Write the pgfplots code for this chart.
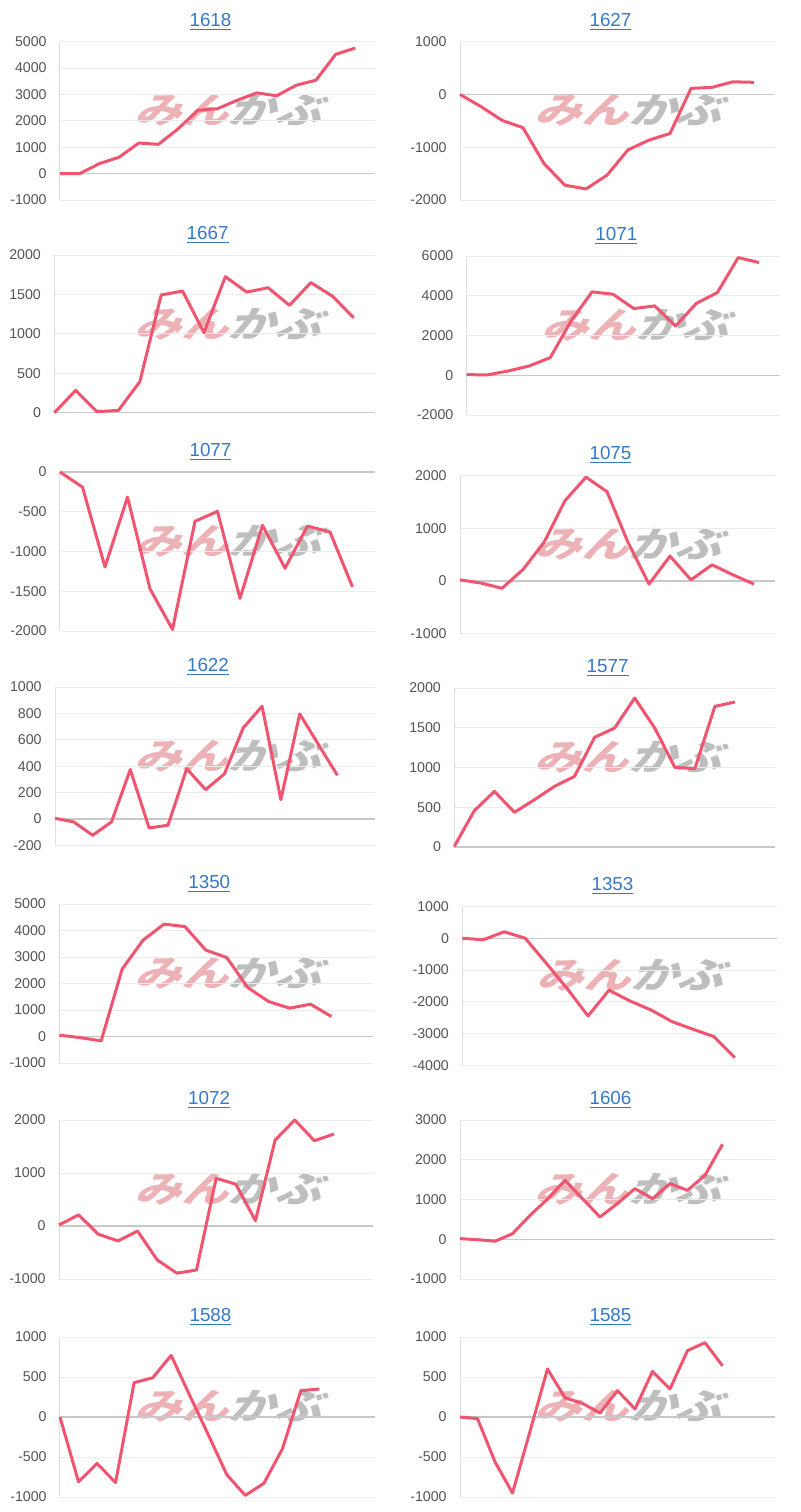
\documentclass[border=0pt]{standalone}
\usepackage{fontspec}
\setmainfont{Liberation Sans}
\newfontfamily\wmfont{Noto Sans CJK JP}[FakeSlant=0.3]
\usepackage{graphicx}
\usepackage{pgfplots}
\pgfplotsset{compat=1.18}
\definecolor{linec}{RGB}{240,84,110}
\definecolor{gridc}{RGB}{235,235,235}
\definecolor{vlinec}{RGB}{222,222,222}
\definecolor{zeroc}{RGB}{200,200,200}
\definecolor{tickc}{RGB}{85,85,85}
\definecolor{linkblue}{RGB}{52,120,200}
\definecolor{wmpink}{RGB}{236,178,182}
\definecolor{wmgray}{RGB}{190,190,190}
\newcommand\ticksfont{\fontsize{7.1pt}{8pt}\selectfont}
\newcommand\titlefont{\fontsize{9.4pt}{11pt}\selectfont}
\pgfplotsset{
  mini/.style={
    scale only axis, anchor=north west, xmin=0,
    axis x line=none, axis y line=left,
    y axis line style={draw=vlinec, line width=0.5pt, -},
    ymajorgrids, grid style={color=gridc, line width=0.5pt},
    major tick length=0pt, xtick=\empty,
    yticklabel style={font=\ticksfont, text=tickc, anchor=east, inner sep=0pt, xshift=-6.5pt},
    scaled y ticks=false,
    /pgf/number format/assume math mode=true,
    /pgf/number format/set thousands separator={},
    extra y ticks={0}, extra y tick labels={},
    extra y tick style={grid style={color=zeroc, line width=0.6pt}},
    clip=false,
    every axis plot post/.append style={color=linec, line width=1.5pt, line join=round, mark=none},
  }
}
\newcommand\panel[6]{%
  \pgfmathsetmacro\pL{#1/2}\pgfmathsetmacro\pT{-#3/2}%
  \pgfmathsetmacro\pW{(#2-#1)/2}\pgfmathsetmacro\pH{(#4-#3)/2}%
  \pgfmathsetmacro\tX{((#1+#2)/2-7)/2}\pgfmathsetmacro\tY{-(#3-15.7)/2}%
  \pgfmathsetmacro\wX{#6/2}\pgfmathsetmacro\wY{-(#3+69)/2}%
  \node[anchor=base, font=\titlefont, text=linkblue, inner sep=0pt] at (\tX pt,\tY pt) {\underline{#5}};%
  \node[inner sep=0pt] at (\wX pt,\wY pt) {\scalebox{1.3}[1]{\fontsize{18pt}{20pt}\wmfont\bfseries\textcolor{wmpink}{みん}\textcolor{wmgray}{かぶ}}};%
}
\begin{document}
\begin{tikzpicture}
\path[use as bounding box] (0,0) rectangle (400pt,-756pt);

\panel{60}{375}{41.7}{200}{1618}{228}
\begin{axis}[mini, at={(\pL pt,\pT pt)}, width=\pW pt, height=\pH pt, ymin=-1000, ymax=5000, ytick={-1000,0,1000,2000,3000,4000,5000}, xmax=16]
\addplot coordinates {(0,0)(1,0)(2,380)(3,620)(4,1160)(5,1110)(6,1700)(7,2400)(8,2460)(9,2780)(10,3060)(11,2950)(12,3350)(13,3540)(14,4520)(15,4760)};
\end{axis}

\panel{460}{775}{41.7}{200}{1627}{628}
\begin{axis}[mini, at={(\pL pt,\pT pt)}, width=\pW pt, height=\pH pt, ymin=-2000, ymax=1000, ytick={-2000,-1000,0,1000}, xmax=15]
\addplot coordinates {(0,0)(1,-230)(2,-490)(3,-630)(4,-1310)(5,-1720)(6,-1790)(7,-1530)(8,-1050)(9,-865)(10,-740)(11,115)(12,135)(13,240)(14,230)};
\end{axis}

\panel{54.3}{375}{255}{412.7}{1667}{228}
\begin{axis}[mini, at={(\pL pt,\pT pt)}, width=\pW pt, height=\pH pt, ymin=0, ymax=2000, ytick={0,500,1000,1500,2000}, xmax=15]
\addplot coordinates {(0,0)(1,283)(2,13)(3,30)(4,393)(5,1493)(6,1543)(7,1015)(8,1725)(9,1530)(10,1585)(11,1362)(12,1650)(13,1480)(14,1205)};
\end{axis}

\panel{466.7}{780}{256}{415}{1071}{635}
\begin{axis}[mini, at={(\pL pt,\pT pt)}, width=\pW pt, height=\pH pt, ymin=-2000, ymax=6000, ytick={-2000,0,2000,4000,6000}, xmax=15]
\addplot coordinates {(0,30)(1,20)(2,220)(3,470)(4,890)(5,2735)(6,4195)(7,4080)(8,3355)(9,3490)(10,2480)(11,3620)(12,4160)(13,5920)(14,5670)};
\end{axis}

\panel{60}{375}{472}{631}{1077}{228}
\begin{axis}[mini, at={(\pL pt,\pT pt)}, width=\pW pt, height=\pH pt, ymin=-2000, ymax=0, ytick={-2000,-1500,-1000,-500,0}, xmax=14]
\addplot coordinates {(0,0)(1,-190)(2,-1195)(3,-315)(4,-1470)(5,-1980)(6,-620)(7,-495)(8,-1590)(9,-670)(10,-1210)(11,-680)(12,-755)(13,-1445)};
\end{axis}

\panel{460}{775}{475.3}{633.7}{1075}{628}
\begin{axis}[mini, at={(\pL pt,\pT pt)}, width=\pW pt, height=\pH pt, ymin=-1000, ymax=2000, ytick={-1000,0,1000,2000}, xmax=15]
\addplot coordinates {(0,20)(1,-40)(2,-140)(3,215)(4,730)(5,1520)(6,1965)(7,1690)(8,730)(9,-60)(10,470)(11,20)(12,305)(13,115)(14,-60)};
\end{axis}

\panel{55}{375}{687}{845.3}{1622}{228}
\begin{axis}[mini, at={(\pL pt,\pT pt)}, width=\pW pt, height=\pH pt, ymin=-200, ymax=1000, ytick={-200,0,200,400,600,800,1000}, xmax=17]
\addplot coordinates {(0,5)(1,-23)(2,-124)(3,-23)(4,374)(5,-68)(6,-48)(7,381)(8,222)(9,341)(10,690)(11,854)(12,146)(13,796)(14,563)(15,331)};
\end{axis}

\panel{454.3}{775}{688}{847}{1577}{628}
\begin{axis}[mini, at={(\pL pt,\pT pt)}, width=\pW pt, height=\pH pt, ymin=0, ymax=2000, ytick={0,500,1000,1500,2000}, xmax=16]
\addplot coordinates {(0,8)(1,457)(2,700)(3,436)(4,595)(5,763)(6,889)(7,1380)(8,1497)(9,1874)(10,1497)(11,1002)(12,985)(13,1769)(14,1824)};
\end{axis}

\panel{59.3}{373.3}{904}{1063}{1350}{228}
\begin{axis}[mini, at={(\pL pt,\pT pt)}, width=\pW pt, height=\pH pt, ymin=-1000, ymax=5000, ytick={-1000,0,1000,2000,3000,4000,5000}, xmax=15]
\addplot coordinates {(0,50)(1,-40)(2,-165)(3,2540)(4,3635)(5,4240)(6,4150)(7,3260)(8,2980)(9,1850)(10,1320)(11,1070)(12,1220)(13,755)};
\end{axis}

\panel{462.3}{776.7}{906.3}{1065.7}{1353}{630}
\begin{axis}[mini, at={(\pL pt,\pT pt)}, width=\pW pt, height=\pH pt, ymin=-4000, ymax=1000, ytick={-4000,-3000,-2000,-1000,0,1000}, xmax=15]
\addplot coordinates {(0,0)(1,-50)(2,200)(3,0)(4,-780)(5,-1580)(6,-2440)(7,-1630)(8,-1970)(9,-2250)(10,-2615)(11,-2855)(12,-3085)(13,-3745)};
\end{axis}

\panel{59}{373.3}{1120}{1279}{1072}{228}
\begin{axis}[mini, at={(\pL pt,\pT pt)}, width=\pW pt, height=\pH pt, ymin=-1000, ymax=2000, ytick={-1000,0,1000,2000}, xmax=16]
\addplot coordinates {(0,20)(1,210)(2,-155)(3,-280)(4,-95)(5,-640)(6,-890)(7,-830)(8,900)(9,790)(10,100)(11,1620)(12,2000)(13,1610)(14,1735)};
\end{axis}

\panel{460}{775}{1120}{1279}{1606}{628}
\begin{axis}[mini, at={(\pL pt,\pT pt)}, width=\pW pt, height=\pH pt, ymin=-1000, ymax=3000, ytick={-1000,0,1000,2000,3000}, xmax=18]
\addplot coordinates {(0,15)(1,-10)(2,-50)(3,140)(4,600)(5,1010)(6,1485)(7,1020)(8,560)(9,900)(10,1275)(11,1020)(12,1400)(13,1230)(14,1610)(15,2390)};
\end{axis}

\panel{60}{375}{1337}{1497}{1588}{228}
\begin{axis}[mini, at={(\pL pt,\pT pt)}, width=\pW pt, height=\pH pt, ymin=-1000, ymax=1000, ytick={-1000,-500,0,500,1000}, xmax=17]
\addplot coordinates {(0,0)(1,-810)(2,-580)(3,-820)(4,430)(5,490)(6,770)(7,270)(8,-220)(9,-720)(10,-980)(11,-830)(12,-400)(13,330)(14,350)};
\end{axis}

\panel{460}{775}{1337}{1497}{1585}{628}
\begin{axis}[mini, at={(\pL pt,\pT pt)}, width=\pW pt, height=\pH pt, ymin=-1000, ymax=1000, ytick={-1000,-500,0,500,1000}, xmax=18]
\addplot coordinates {(0,0)(1,-20)(2,-560)(3,-950)(4,-180)(5,600)(6,240)(7,170)(8,50)(9,330)(10,100)(11,570)(12,350)(13,830)(14,930)(15,640)};
\end{axis}

\end{tikzpicture}
\end{document}
